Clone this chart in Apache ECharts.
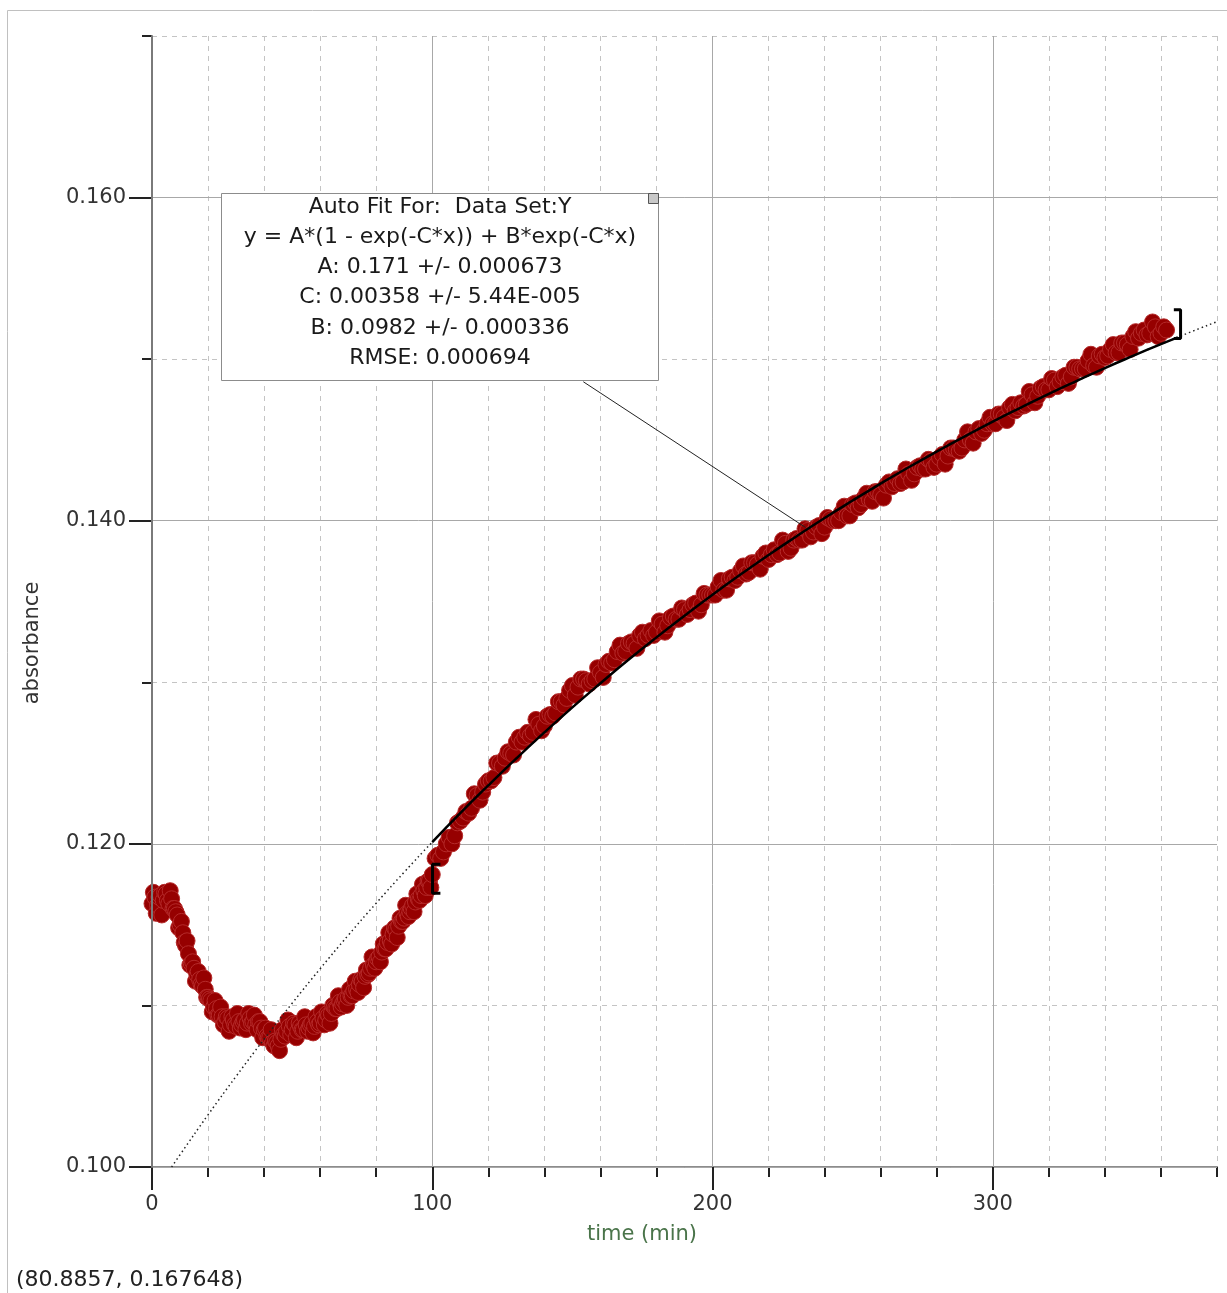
<!DOCTYPE html>
<html>
<head>
<meta charset="utf-8">
<script src="https://cdn.jsdelivr.net/npm/echarts@6/dist/echarts.min.js"></script>
<style>
html,body{margin:0;padding:0;background:#fff;}
#chart{width:1227px;height:1293px;}
</style>
</head>
<body>
<div id="chart"></div>
<script>
// ---- data (two interleaved runs of readings) ----
const times = [
0,1,2,3,4,5,6,7,8,9,10,11,12,13,14,15,16,17,18,19,
20,21,22,23,24,25,26,27,28,29,30,31,32,33,34,35,36,37,38,39,
40,41,42,43,44,45,46,47,48,49,50,51,52,53,54,55,56,57,58,59,
60,61,62,63,64,65,66,67,68,69,70,71,72,73,74,75,76,77,78,79,
80,81,82,83,84,85,86,87,88,89,90,91,92,93,94,95,96,97,98,99,100,
102,104,106,108,110,112,114,116,118,120,122,124,126,128,130,132,134,136,138,140,
142,144,146,148,150,152,154,156,158,160,162,164,166,168,170,172,174,176,178,180,
182,184,186,188,190,192,194,196,198,200,202,204,206,208,210,212,214,216,218,220,
222,224,226,228,230,232,234,236,238,240,242,244,246,248,250,252,254,256,258,260,
262,264,266,268,270,272,274,276,278,280,282,284,286,288,290,292,294,296,298,300,
302,304,306,308,310,312,314,316,318,320,322,324,326,328,330,332,334,336,338,340,
342,344,346,348,350,352,354,356,358,360,362
];
const absorbance = [
0.1163,0.1167,0.1162,0.1168,0.1165,0.1169,0.1163,0.1166,0.1160,0.1156,
0.1150,0.1145,0.1137,0.1132,0.1126,0.1123,0.1119,0.1116,0.1112,0.1110,
0.1105,0.1103,0.1099,0.1098,0.1094,0.1093,0.1090,0.1092,0.1088,0.1091,
0.1087,0.1090,0.1088,0.1091,0.1089,0.1092,0.1090,0.1088,0.1090,0.1086,
0.1085,0.1081,0.1080,0.1077,0.1078,0.1075,0.1079,0.1082,0.1084,0.1087,
0.1085,0.1088,0.1084,0.1087,0.1085,0.1088,0.1086,0.1089,0.1087,0.1090,
0.1089,0.1092,0.1091,0.1094,0.1095,0.1099,0.1098,0.1102,0.1101,0.1104,
0.1105,0.1106,0.1109,0.1110,0.1113,0.1115,0.1118,0.1119,0.1123,0.1125,
0.1127,0.1130,0.1133,0.1135,0.1139,0.1140,0.1144,0.1147,0.1149,0.1152,
0.1154,0.1157,0.1158,0.1162,0.1164,0.1166,0.1168,0.1171,0.1173,0.1177,
0.1181,
0.1193,0.1195,0.1204,0.1205,0.1214,0.1220,0.1222,0.1230,0.1232,0.1239,
0.1241,0.1250,0.1253,0.1256,0.1263,0.1263,0.1269,0.1269,0.1274,0.1273,
0.1280,0.1281,0.1288,0.1290,0.1298,0.1297,0.1302,0.1299,0.1302,0.1306,
0.1311,0.1312,0.1319,0.1318,0.1324,0.1324,0.1329,0.1327,0.1332,0.1331,
0.1336,0.1335,0.1341,0.1339,0.1345,0.1345,0.1349,0.1348,0.1354,0.1354,
0.1359,0.1357,0.1364,0.1363,0.1369,0.1367,0.1374,0.1373,0.1378,0.1376,
0.1382,0.1380,0.1386,0.1383,0.1389,0.1388,0.1394,0.1393,0.1397,0.1396,
0.1401,0.1400,0.1405,0.1403,0.1410,0.1408,0.1414,0.1413,0.1418,0.1416,
0.1422,0.1421,0.1426,0.1424,0.1429,0.1429,0.1434,0.1432,0.1437,0.1435,
0.1441,0.1440,0.1445,0.1443,0.1450,0.1450,0.1455,0.1454,0.1460,0.1460,
0.1466,0.1464,0.1470,0.1468,0.1473,0.1472,0.1478,0.1477,0.1483,0.1481,
0.1487,0.1486,0.1490,0.1489,0.1495,0.1494,0.1499,0.1496,0.1502,0.1501,
0.1506,0.1504,0.1510,0.1509,0.1514,0.1513,0.1518,0.1516,0.1520,0.1516,
0.1518
];
const timesB = [
0.5,1.5,2.5,3.5,4.5,5.5,6.5,7.5,8.5,9.5,10.5,11.5,12.5,13.5,14.5,15.5,16.5,17.5,18.5,19.5,
20.5,21.5,22.5,23.5,24.5,25.5,26.5,27.5,28.5,29.5,30.5,31.5,32.5,33.5,34.5,35.5,36.5,37.5,38.5,39.5,
40.5,41.5,42.5,43.5,44.5,45.5,46.5,47.5,48.5,49.5,50.5,51.5,52.5,53.5,54.5,55.5,56.5,57.5,58.5,59.5,
60.5,61.5,62.5,63.5,64.5,65.5,66.5,67.5,68.5,69.5,70.5,71.5,72.5,73.5,74.5,75.5,76.5,77.5,78.5,79.5,
80.5,81.5,82.5,83.5,84.5,85.5,86.5,87.5,88.5,89.5,90.5,91.5,92.5,93.5,94.5,95.5,96.5,97.5,98.5,99.5,
101,103,105,107,109,111,113,115,117,119,121,123,125,127,129,131,133,135,137,139,
141,143,145,147,149,151,153,155,157,159,161,163,165,167,169,171,173,175,177,179,
181,183,185,187,189,191,193,195,197,199,201,203,205,207,209,211,213,215,217,219,
221,223,225,227,229,231,233,235,237,239,241,243,245,247,249,251,253,255,257,259,
261,263,265,267,269,271,273,275,277,279,281,283,285,287,289,291,293,295,297,299,
301,303,305,307,309,311,313,315,317,319,321,323,325,327,329,331,333,335,337,339,
341,343,345,347,349,351,353,355,357,359,361
];
const absorbanceB = [
0.1170,0.1157,0.1167,0.1156,0.1170,0.1165,0.1171,0.1160,0.1158,0.1148,
0.1152,0.1139,0.1140,0.1125,0.1127,0.1115,0.1121,0.1113,0.1117,0.1105,
0.1104,0.1096,0.1103,0.1094,0.1099,0.1088,0.1093,0.1084,0.1093,0.1088,
0.1095,0.1086,0.1090,0.1085,0.1095,0.1089,0.1094,0.1085,0.1090,0.1080,
0.1086,0.1080,0.1085,0.1075,0.1077,0.1072,0.1085,0.1081,0.1091,0.1082,
0.1089,0.1080,0.1089,0.1085,0.1093,0.1084,0.1088,0.1083,0.1093,0.1088,
0.1096,0.1088,0.1095,0.1089,0.1100,0.1098,0.1106,0.1099,0.1103,0.1100,
0.1110,0.1106,0.1115,0.1108,0.1116,0.1111,0.1122,0.1120,0.1130,0.1123,
0.1129,0.1127,0.1138,0.1135,0.1145,0.1138,0.1148,0.1142,0.1154,0.1152,
0.1162,0.1155,0.1160,0.1158,0.1169,0.1165,0.1175,0.1168,0.1177,0.1173,
0.1191,0.1191,0.1200,0.1200,0.1213,0.1216,0.1219,0.1231,0.1227,0.1237,
0.1239,0.1250,0.1248,0.1257,0.1255,0.1266,0.1266,0.1267,0.1277,0.1270,
0.1279,0.1279,0.1288,0.1286,0.1295,0.1292,0.1302,0.1301,0.1301,0.1309,
0.1303,0.1313,0.1314,0.1323,0.1319,0.1325,0.1321,0.1331,0.1329,0.1329,
0.1338,0.1331,0.1340,0.1339,0.1346,0.1342,0.1348,0.1344,0.1355,0.1354,
0.1354,0.1363,0.1357,0.1365,0.1365,0.1372,0.1368,0.1374,0.1370,0.1380,
0.1379,0.1379,0.1388,0.1381,0.1388,0.1388,0.1395,0.1390,0.1396,0.1392,
0.1402,0.1400,0.1400,0.1409,0.1403,0.1411,0.1410,0.1417,0.1412,0.1418,
0.1414,0.1424,0.1423,0.1423,0.1432,0.1425,0.1433,0.1432,0.1438,0.1433,
0.1439,0.1435,0.1445,0.1444,0.1445,0.1455,0.1448,0.1457,0.1456,0.1464,
0.1460,0.1466,0.1462,0.1472,0.1470,0.1471,0.1480,0.1473,0.1482,0.1481,
0.1488,0.1483,0.1489,0.1485,0.1495,0.1494,0.1494,0.1503,0.1495,0.1503,
0.1502,0.1509,0.1504,0.1510,0.1506,0.1517,0.1516,0.1515,0.1523,0.1514,
0.1520
];
// fitted curve as drawn
const fitTimes = [7,10,20,30,40,50,60,70,80,90,100,110,120,130,140,150,160,170,180,190,200,
  210,220,230,240,250,260,270,280,290,300,310,320,330,340,350,360,366,370,380];
const fitValues = [0.10000,0.10076,0.10323,0.10561,0.10791,0.11013,0.11227,0.11434,0.11633,0.11825,
  0.12011,0.12190,0.12362,0.12529,0.12690,0.12845,0.12994,0.13139,0.13278,0.13412,0.13542,
  0.13667,0.13788,0.13904,0.14017,0.14125,0.14230,0.14331,0.14428,0.14522,0.14613,
  0.14700,0.14785,0.14866,0.14945,0.15020,0.15093,0.15135,0.15164,0.15232];
const fitRange = [100, 366];
const leftBracket = [[102.9,0.11874],[100.1,0.11874],[100.1,0.11694],[102.9,0.11694]];
const rightBracket = [[364.6,0.15306],[367.0,0.15306],[367.0,0.15127],[364.6,0.15127]];
const pointer = [[153.9,0.1486],[233.2,0.13958]];
const xTickMajor = [0,100,200,300];
const boxLines = [
  'Auto Fit For:  Data Set:Y',
  'y = A*(1 - exp(-C*x)) + B*exp(-C*x)',
  'A: 0.171 +/- 0.000673',
  'C: 0.00358 +/- 5.44E-005',
  'B: 0.0982 +/- 0.000336',
  'RMSE: 0.000694'
];
const cursorText = '(80.8857, 0.167648)';

// ---- layout ----
const FONT = '"DejaVu Sans", sans-serif';
const L = 152, T = 36, B = 1167, R = 1217;
const xMax = 380, yMin = 0.100, yMax = 0.170;
const W = R - L, H = B - T;
const wMajor = W * 300 / xMax;
const topMajor = B - H * (0.160 - yMin) / (yMax - yMin);

const scatterData = times.map((t, i) => [t, absorbance[i]])
  .concat(timesB.map((t, i) => [t, absorbanceB[i]]))
  .sort((a, b) => a[0] - b[0]);
const fitAll = fitTimes.map((t, i) => [t, fitValues[i]]);
const fitSolid = fitAll.filter(p => p[0] >= fitRange[0] && p[0] <= fitRange[1]);

const minorSplit = {show: true, lineStyle: {color: '#c4c4c4', width: 1, type: [5, 5]}};
const majorSplit = {show: true, lineStyle: {color: '#a8a8a8', width: 1, type: 'solid'}};
const tickStyle = {color: '#222', width: 2};

const chart = echarts.init(document.getElementById('chart'), null, {renderer: 'canvas'});
const option = {
  animation: false,
  backgroundColor: '#fff',
  grid: [
    {left: L, top: T, width: W, height: H},
    {left: L, top: T, width: wMajor, height: H},
    {left: L, top: topMajor, width: W, height: B - topMajor}
  ],
  xAxis: [
    {gridIndex: 0, type: 'value', min: 0, max: xMax, interval: 20, z: 0,
     axisLine: {show: true, onZero: false, lineStyle: {color: '#8c8c8c', width: 2}},
     axisTick: {show: true, length: 10, lineStyle: tickStyle},
     axisLabel: {show: false}, splitLine: minorSplit},
    {gridIndex: 1, type: 'value', min: 0, max: 300, interval: 100, z: 1,
     axisLine: {show: false},
     axisTick: {show: true, length: 23, lineStyle: tickStyle},
     axisLabel: {show: true, margin: 27, color: '#333', fontFamily: FONT, fontSize: 21,
       formatter: v => xTickMajor.indexOf(v) >= 0 ? String(v) : ''},
     splitLine: majorSplit},
    {gridIndex: 2, type: 'value', min: 0, max: xMax, show: false}
  ],
  yAxis: [
    {gridIndex: 0, type: 'value', min: yMin, max: yMax, interval: 0.01, z: 0,
     axisLine: {show: false},
     axisTick: {show: true, length: 10, lineStyle: tickStyle},
     axisLabel: {show: false}, splitLine: minorSplit},
    {gridIndex: 1, type: 'value', min: yMin, max: yMax, z: 4,
     axisLine: {show: true, onZero: false, lineStyle: {color: '#7a7a7a', width: 2}},
     axisTick: {show: false}, axisLabel: {show: false}, splitLine: {show: false}},
    {gridIndex: 2, type: 'value', min: yMin, max: 0.160, interval: 0.02, z: 1,
     axisLine: {show: false},
     axisTick: {show: true, length: 23, lineStyle: tickStyle},
     axisLabel: {show: true, margin: 26, color: '#333', fontFamily: FONT, fontSize: 21,
       formatter: v => v.toFixed(3)},
     splitLine: majorSplit}
  ],
  series: [
    {type: 'scatter', xAxisIndex: 0, yAxisIndex: 0, data: scatterData,
     symbol: 'circle', symbolSize: 16, z: 2, large: false,
     itemStyle: {color: '#960000', borderColor: '#b52a2a', borderWidth: 1, opacity: 1}},
    {type: 'line', xAxisIndex: 0, yAxisIndex: 0, data: fitAll, smooth: true,
     showSymbol: false, z: 3,
     lineStyle: {color: '#222', width: 1.5, type: [1.5, 3]}},
    {type: 'line', xAxisIndex: 0, yAxisIndex: 0, data: fitSolid, smooth: true,
     showSymbol: false, z: 4,
     lineStyle: {color: '#000', width: 2.5}},
    {type: 'line', xAxisIndex: 0, yAxisIndex: 0, data: leftBracket, showSymbol: false, z: 5,
     lineStyle: {color: '#000', width: 3}},
    {type: 'line', xAxisIndex: 0, yAxisIndex: 0, data: rightBracket, showSymbol: false, z: 5,
     lineStyle: {color: '#000', width: 3}},
    {type: 'line', xAxisIndex: 0, yAxisIndex: 0, data: pointer, showSymbol: false, z: 5,
     lineStyle: {color: '#222', width: 1}}
  ],
  graphic: [
    {type: 'rect', z: 100, shape: {x: 7.5, y: 10.5, width: 1260, height: 1320},
     style: {fill: 'none', stroke: '#c0c0c0', lineWidth: 1}},
    {type: 'rect', z: 100, shape: {x: 221.5, y: 193.5, width: 437, height: 187},
     style: {fill: '#fff', stroke: '#8c8c8c', lineWidth: 1}},
    {type: 'rect', z: 101, shape: {x: 648.5, y: 193.5, width: 10, height: 10},
     style: {fill: '#c8c8c8', stroke: '#555', lineWidth: 1}}
  ].concat(boxLines.map((s, i) => ({
    type: 'text', z: 102, x: 440, y: 207 + i * 30.2,
    style: {text: s, align: 'center', verticalAlign: 'middle', fill: '#1a1a1a',
      font: '22px ' + FONT}
  }))).concat([
    {type: 'text', z: 102, x: 33, y: 643, rotation: Math.PI / 2,
     style: {text: 'absorbance', align: 'center', verticalAlign: 'middle', fill: '#333',
       font: '21px ' + FONT}},
    {type: 'text', z: 102, x: 642, y: 1235,
     style: {text: 'time (min)', align: 'center', verticalAlign: 'middle', fill: '#4a744a',
       font: '21px ' + FONT}},
    {type: 'text', z: 102, x: 16, y: 1280,
     style: {text: cursorText, align: 'left', verticalAlign: 'middle', fill: '#222',
       font: '22px ' + FONT}}
  ])
};
chart.setOption(option);
</script>
</body>
</html>
